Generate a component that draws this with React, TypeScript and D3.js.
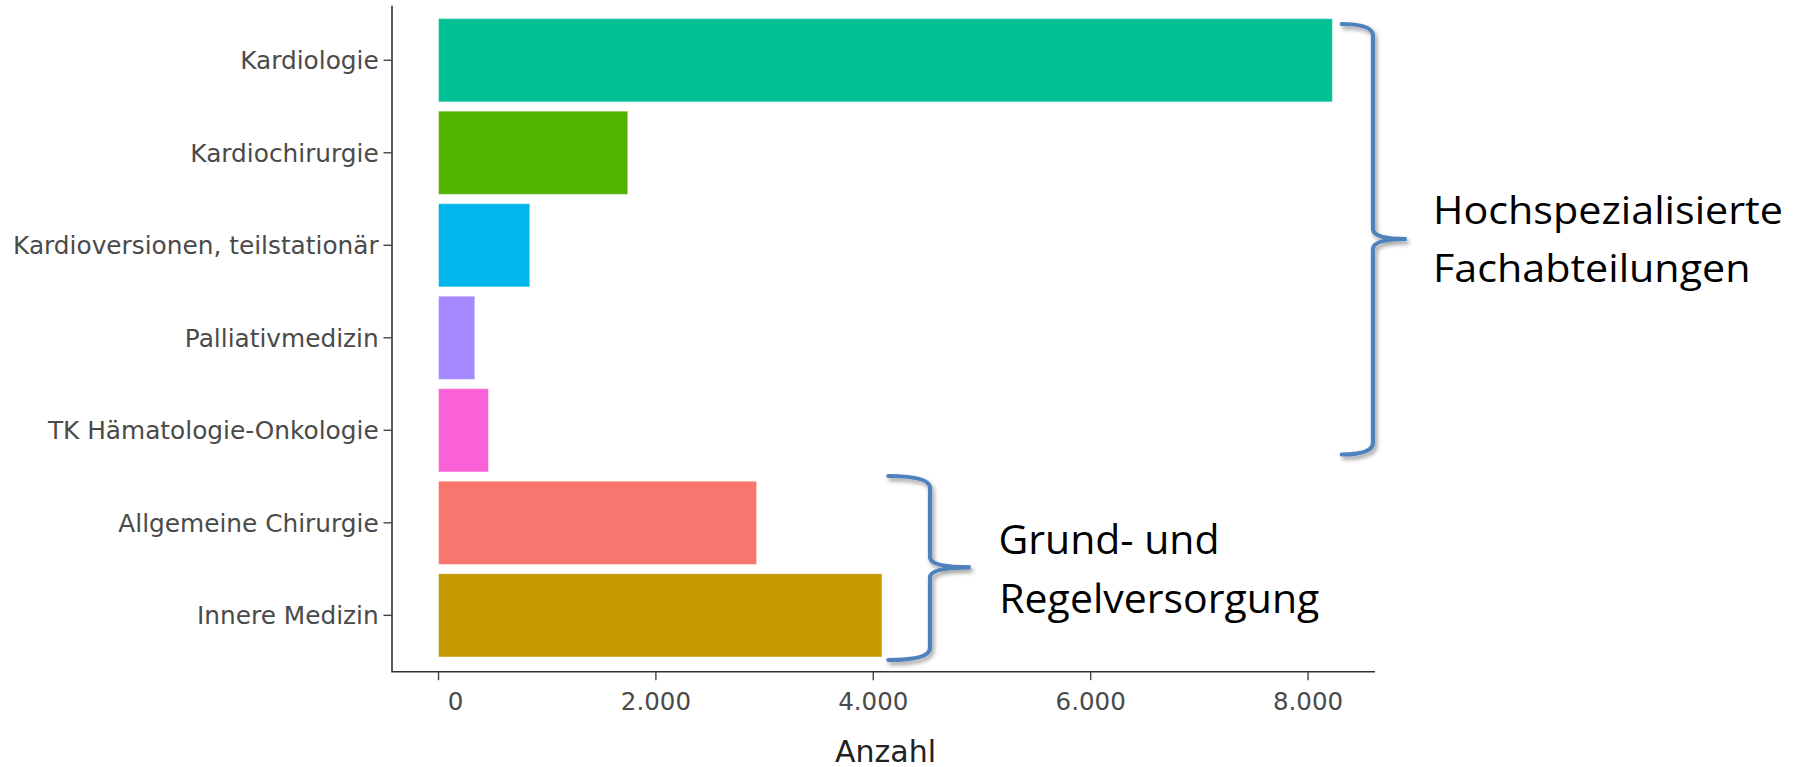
import React from "react";
import * as d3 from "d3";

const categories = [
  "Kardiologie",
  "Kardiochirurgie",
  "Kardioversionen, teilstationär",
  "Palliativmedizin",
  "TK Hämatologie-Onkologie",
  "Allgemeine Chirurgie",
  "Innere Medizin",
];
const values = [8224, 1741, 840, 334, 460, 2927, 4080];
const colors = ["#00C094", "#53B400", "#00B6EB", "#A58AFF", "#FB61D7", "#F8766D", "#C49A00"];
const xTicks = [0, 2000, 4000, 6000, 8000];
const xTickLabels = ["0", "2.000", "4.000", "6.000", "8.000"];
const xTitle = "Anzahl";
const groupTop = ["Hochspezialisierte", "Fachabteilungen"];
const groupBottom = ["Grund- und", "Regelversorgung"];

const W = 1801;
const H = 767;
const plot = { left: 392, right: 1375, top: 5.7, bottom: 671.7 };

function bracePath(x0: number, xv: number, xp: number, y0: number, ym: number, y1: number) {
  const r = 12;
  const rm = 10;
  return [
    `M${x0},${y0}`,
    `Q${xv},${y0} ${xv},${y0 + r}`,
    `L${xv},${ym - rm}`,
    `Q${xv},${ym} ${xp},${ym}`,
    `Q${xv},${ym} ${xv},${ym + rm}`,
    `L${xv},${y1 - r}`,
    `Q${xv},${y1} ${x0},${y1}`,
  ].join(" ");
}

export default function App() {
  const x = d3.scaleLinear().domain([-428, 8616]).range([plot.left, plot.right]);
  const y = d3
    .scaleBand<string>()
    .domain(categories)
    .range([14, 661.6])
    .paddingInner(0.1)
    .paddingOuter(0.05);
  const bw = y.bandwidth();

  return (
    <svg
      width={W}
      height={H}
      viewBox={`0 0 ${W} ${H}`}
      style={{ position: "absolute", left: 0, top: 0, background: "#fff" }}
    >
      <defs>
        <filter id="shadow" x="-50%" y="-10%" width="200%" height="120%">
          <feDropShadow dx="2" dy="3" stdDeviation="2" floodColor="#000" floodOpacity="0.4" />
        </filter>
      </defs>
      <rect x={0} y={0} width={W} height={H} fill="#fff" />

      {/* bars */}
      {categories.map((c, i) => (
        <rect
          key={c}
          x={x(0)}
          y={y(c)!}
          width={x(values[i]) - x(0)}
          height={bw}
          fill={colors[i]}
          stroke="#ffffff"
          strokeOpacity={0.45}
          strokeWidth={1}
        />
      ))}

      {/* axes */}
      <line x1={plot.left} x2={plot.left} y1={plot.top} y2={plot.bottom} stroke="#333" strokeWidth={1.6} />
      <line x1={plot.left - 0.8} x2={plot.right} y1={plot.bottom} y2={plot.bottom} stroke="#333" strokeWidth={1.6} />

      {/* y ticks & labels */}
      {categories.map((c) => {
        const cy = y(c)! + bw / 2;
        return (
          <g key={c}>
            <line x1={plot.left - 8.5} x2={plot.left} y1={cy} y2={cy} stroke="#444" strokeWidth={1.4} />
            <text
              x={378.7}
              y={cy}
              dy="0.36em"
              textAnchor="end"
              fontFamily="DejaVu Sans"
              fontSize={24.8}
              fill="#4a4a4a"
            >
              {c}
            </text>
          </g>
        );
      })}

      {/* x ticks & labels */}
      {xTicks.map((t, i) => (
        <g key={t}>
          <line x1={x(t)} x2={x(t)} y1={plot.bottom} y2={plot.bottom + 8.5} stroke="#444" strokeWidth={1.4} />
          <text
            x={x(t)}
            dx={t === 0 ? 17 : 0}
            y={710}
            textAnchor="middle"
            fontFamily="DejaVu Sans"
            fontSize={24.5}
            fill="#4a4a4a"
          >
            {xTickLabels[i]}
          </text>
        </g>
      ))}
      <text
        x={(plot.left + plot.right) / 2 + 2}
        y={761.5}
        textAnchor="middle"
        fontFamily="DejaVu Sans"
        fontSize={30}
        fill="#222"
      >
        {xTitle}
      </text>

      {/* braces */}
      <g filter="url(#shadow)" fill="none" stroke="#4F81BD" strokeWidth={4.2} strokeLinecap="round">
        <path d={bracePath(1341.7, 1373, 1406.7, 24, 239, 454.5)} />
        <path d={bracePath(888.3, 930, 970.7, 476, 567.3, 660)} />
      </g>

      {/* group labels */}
      <g fontFamily="Open Sans" fill="#000">
        <text x={1433} y={224} fontSize={38} textLength={350} lengthAdjust="spacingAndGlyphs">
          {groupTop[0]}
        </text>
        <text x={1433} y={281.7} fontSize={38} textLength={317.5} lengthAdjust="spacingAndGlyphs">
          {groupTop[1]}
        </text>
        <text x={998.5} y={554.3} fontSize={40.5} textLength={221} lengthAdjust="spacingAndGlyphs">
          {groupBottom[0]}
        </text>
        <text x={999.3} y={613.3} fontSize={40.5} textLength={320} lengthAdjust="spacingAndGlyphs">
          {groupBottom[1]}
        </text>
      </g>
    </svg>
  );
}
